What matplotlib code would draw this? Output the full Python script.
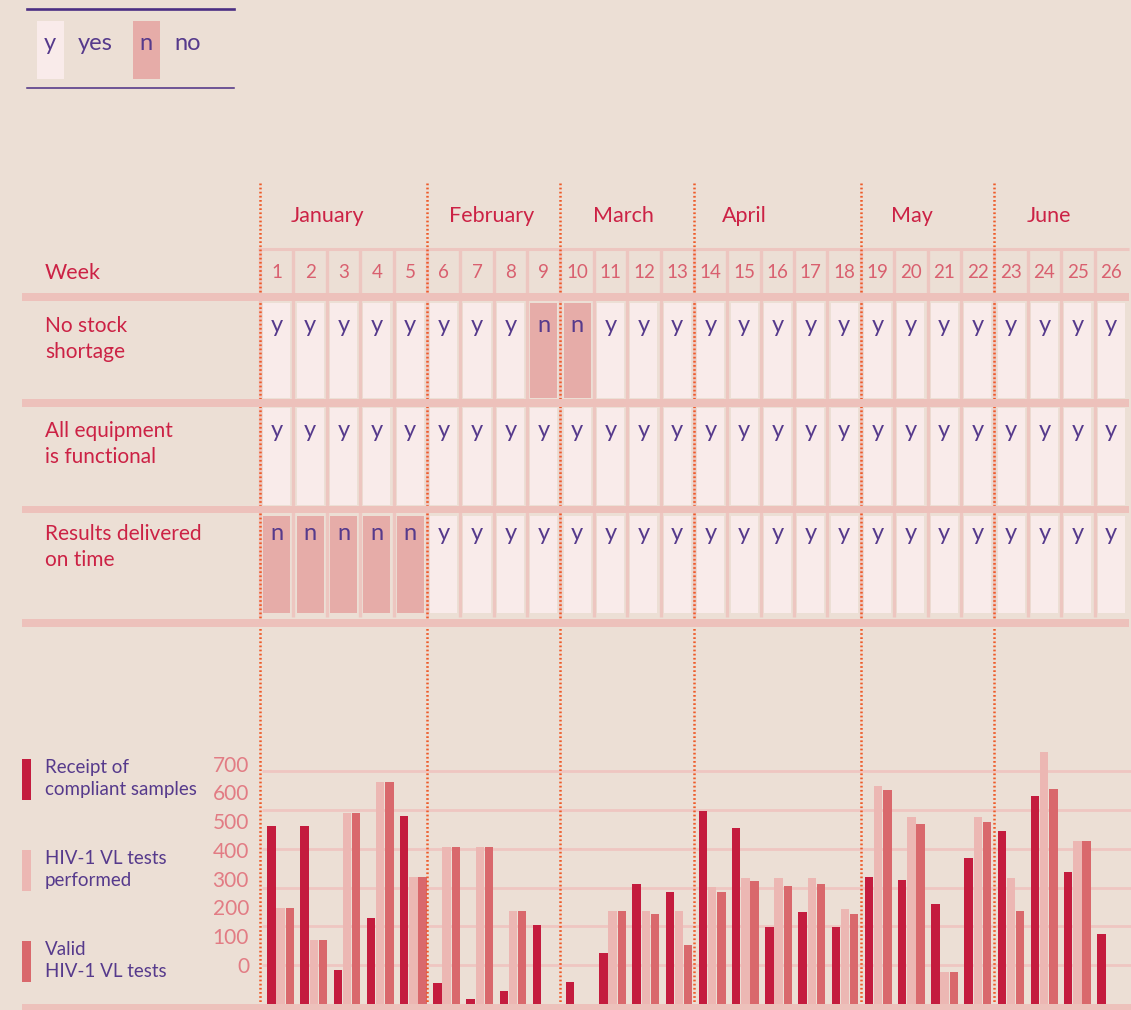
import matplotlib
matplotlib.use("Agg")
import matplotlib.pyplot as plt
from matplotlib.patches import Rectangle

plt.rcParams['font.family'] = ['Lato', 'DejaVu Sans']

# ---- data ----
weeks = list(range(1, 27))
months = ["January", "February", "March", "April", "May", "June"]
month_first_week = [1, 6, 10, 14, 19, 23]
criteria = ["No stock\nshortage", "All equipment\nis functional", "Results delivered\non time"]
no_stock = list("yyyyyyyynnyyyyyyyyyyyyyyyy")
equipment = list("yyyyyyyyyyyyyyyyyyyyyyyyyy")
on_time = list("nnnnnyyyyyyyyyyyyyyyyyyyyy")

receipt = [458, 458, 88, 222, 484, 55, 14, 34, 204, 57, 132, 309, 288,
           497, 454, 199, 238, 199, 327, 320, 258, 376, 446, 536, 340, 181]
performed = [248, 165, 492, 572, 327, 405, 405, 240, 0, 0, 240, 240, 240,
             302, 325, 325, 325, 245, 561, 482, 83, 482, 325, 649, 420, 0]
valid = [248, 165, 492, 572, 327, 405, 405, 240, 0, 0, 240, 232, 153,
         288, 317, 304, 309, 232, 551, 464, 83, 469, 240, 554, 420, 0]
series_labels = ["Receipt of\ncompliant samples", "HIV-1 VL tests\nperformed", "Valid\nHIV-1 VL tests"]
tick_values = [0, 100, 200, 300, 400, 500, 600, 700]

# ---- colours ----
BG = "#ECDFD5"
BAND = "#EDC1BB"
SEP = "#EDC6C0"
FILL_Y = "#F9EBEA"
FILL_N = "#E6ACA8"
DOT = "#EE5A28"
RED = "#CC2245"
WEEKNUM = "#D9606F"
PURPLE = "#563A8C"
LINE = "#4B2E83"
C_REC = "#C41C3E"
C_PERF = "#ECB7B3"
C_VAL = "#D9686C"
GRID = "#EFC6C1"
TICK = "#E27C84"

W, H = 1131, 1010
fig = plt.figure(figsize=(W / 100, H / 100), dpi=100, facecolor=BG)

# ---- bar chart ----
ax_bar = fig.add_axes([0, 5.7 / H, 1, 364.3 / H])
ax_bar.set_xlim(-7.449, 26.617)
ax_bar.set_ylim(0, 936.5)
ax_bar.axis('off')
ax_bar.hlines([100, 200, 300, 400, 500, 600], 0.44, 26.617, colors=GRID, lw=2, zorder=0)
off, bw = 0.277, 0.253
ax_bar.bar([w - off for w in weeks], receipt, bw, color=C_REC, zorder=2)
ax_bar.bar(weeks, performed, bw, color=C_PERF, zorder=2)
ax_bar.bar([w + off for w in weeks], valid, bw, color=C_VAL, zorder=2)

# value labels sit on their own scale, as in the original layout
ax_lab = ax_bar.twinx()
ax_lab.set_ylim(-110, 1158.8)
ax_lab.axis('off')
for v in tick_values:
    ax_lab.text(0.051, v, str(v), ha='right', va='baseline', fontsize=15, color=TICK)

# ---- table ----
ax = fig.add_axes([0, 0, 1, 1], zorder=2)
ax.set_xlim(-7.2894, 26.593)
ax.set_ylim(H, 0)
ax.axis('off')
left = ax.get_yaxis_transform()

ax.vlines([0.5] + [w + 0.5 for w in weeks[:-1]], 248, 617, colors=SEP, lw=2.4, zorder=1)
ax.hlines(248.7, 0.45, 26.53, colors=SEP, lw=2.2, zorder=1)

rows = [no_stock, equipment, on_time]
row_fill = [(302.7, 397.7), (407.5, 505), (516, 612.7)]
row_base = [331.7, 436.7, 540]
for status, (top, bot), base, label in zip(rows, row_fill, row_base, criteria):
    ax.bar(weeks, bot - top, 0.81, bottom=top, zorder=2,
           color=[FILL_Y if s == "y" else FILL_N for s in status])
    for w, s in zip(weeks, status):
        ax.text(w, base, s, ha='center', va='baseline', fontsize=17, color=PURPLE, zorder=5)
    for i, line in enumerate(label.split("\n")):
        ax.text(45 / W, base + i * 26, line, transform=left, ha='left', va='baseline',
                fontsize=15, color=RED)

for w in weeks:
    ax.text(w, 278.5, str(w), ha='center', va='baseline', fontsize=13.5, color=WEEKNUM)
ax.text(45 / W, 279, "Week", transform=left, ha='left', va='baseline', fontsize=15.5, color=RED)

for top, bot in [(293.3, 300.7), (399.3, 406.7), (506, 513.3), (619, 626.5), (1004.3, 1010)]:
    ax.axhspan(top, bot, xmin=22 / W, xmax=1129 / W if bot < 1000 else 1, color=BAND, lw=0, zorder=3)

ax.vlines([m - 0.5 for m in month_first_week], 183, 1010, colors=DOT, lw=1.8,
          linestyles=(0, (0.7, 0.95)), zorder=2.5)

month_label_x = [2.51, 7.44, 11.40, 15.0, 20.02, 24.13]
for name, x in zip(months, month_label_x):
    ax.text(x, 222, name, ha='center', va='baseline', fontsize=15.5, color=RED)

# ---- yes / no legend ----
ax.axhline(9, 27 / W, 234 / W, color=LINE, lw=1.9)
ax.axhline(88, 27 / W, 234 / W, color=LINE, lw=1.1)
for x0, fc, s, word in [(36.7, FILL_Y, "y", "yes"), (132.7, FILL_N, "n", "no")]:
    ax.add_patch(Rectangle((x0 / W, 21), 27 / W, 58, transform=left, color=fc, lw=0))
    ax.text((x0 + 13.5) / W, 50, s, transform=left, ha='center', va='baseline', fontsize=17, color=PURPLE)
    ax.text((x0 + 41.5) / W, 50, word, transform=left, ha='left', va='baseline', fontsize=17, color=PURPLE)

# ---- bar legend ----
for (top, bot), base, col, label in zip([(759, 800), (850, 891), (941, 982)], [773.3, 864.3, 955],
                                        [C_REC, C_PERF, C_VAL], series_labels):
    ax.add_patch(Rectangle((22 / W, top), 8.7 / W, bot - top, transform=left, color=col, lw=0))
    for i, line in enumerate(label.split("\n")):
        ax.text(45 / W, base + i * 22, line, transform=left, ha='left', va='baseline',
                fontsize=13.5, color=PURPLE)

fig.savefig("out.png", dpi=100, facecolor=BG)
